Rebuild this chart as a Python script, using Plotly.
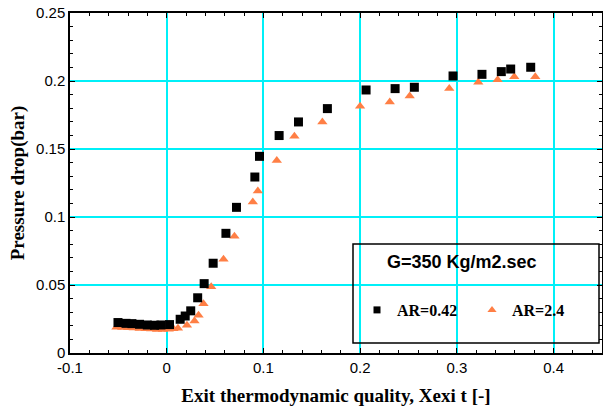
import plotly.graph_objects as go

# ---- data ----
ar042_x = [-0.0504, -0.0421, -0.0360, -0.0281, -0.0201, -0.0126, -0.0060, 0.0029,
           0.0139, 0.0191, 0.0248, 0.0320, 0.0387, 0.0480, 0.0612, 0.0721,
           0.0911, 0.0959, 0.1162, 0.1362, 0.1661, 0.2061, 0.2361, 0.2560,
           0.2960, 0.3259, 0.3459, 0.3556, 0.3763]
ar042_y = [0.0224, 0.0218, 0.0216, 0.0211, 0.0206, 0.0204, 0.0206, 0.0209,
           0.0248, 0.0272, 0.0310, 0.0406, 0.0510, 0.0660, 0.0880, 0.1071,
           0.1294, 0.1446, 0.1599, 0.1699, 0.1797, 0.1934, 0.1944, 0.1954,
           0.2037, 0.2049, 0.2069, 0.2088, 0.2101]

ar24_x = [-0.052, -0.046, -0.040, -0.034, -0.028, -0.022, -0.016, -0.010, -0.004,
          0.002, 0.007, 0.0116, 0.0209, 0.0287, 0.0329, 0.0380, 0.0460, 0.0587,
          0.0700, 0.0890, 0.0942, 0.1138, 0.1320, 0.1609, 0.1999, 0.2306, 0.2512,
          0.2921, 0.3221, 0.3421, 0.3593, 0.3810]
ar24_y = [0.0190, 0.0188, 0.0185, 0.0183, 0.0180, 0.0178, 0.0176, 0.0173, 0.0172,
          0.0175, 0.0178, 0.0182, 0.0204, 0.0235, 0.0277, 0.0363, 0.0487, 0.0689,
          0.0858, 0.1110, 0.1191, 0.1415, 0.1593, 0.1699, 0.1814, 0.1846, 0.1890,
          0.1944, 0.1990, 0.2010, 0.2032, 0.2032]

x_tickvals = [-0.1, 0, 0.1, 0.2, 0.3, 0.4]
x_ticktext = ["-0.1", "0", "0.1", "0.2", "0.3", "0.4"]
y_tickvals = [0, 0.05, 0.1, 0.15, 0.2, 0.25]
y_ticktext = ["0", "0.05", "0.1", "0.15", "0.2", "0.25"]

series_names = ["AR=0.42", "AR=2.4"]
box_title = "G=350 Kg/m2.sec"
x_title = "Exit thermodynamic quality, Xexi t [-]"
y_title = "Pressure drop(bar)"

BLACK = "#000000"
ORANGE = "#FF7F45"
CYAN = "#00F0F8"

fig = go.Figure()
fig.add_trace(go.Scatter(x=ar24_x, y=ar24_y, mode="markers", showlegend=False,
                         marker=dict(symbol="triangle-up", size=9, color=ORANGE)))
fig.add_trace(go.Scatter(x=ar042_x, y=ar042_y, mode="markers", showlegend=False,
                         marker=dict(symbol="square", size=9, color=BLACK)))
# legend-only entries (smaller symbols like the reference)
fig.add_trace(go.Scatter(x=[None], y=[None], mode="markers",
                         name="<b>" + series_names[0] + "</b>",
                         marker=dict(symbol="square", size=7, color=BLACK)))
fig.add_trace(go.Scatter(x=[None], y=[None], mode="markers",
                         name="<b>" + series_names[1] + "</b>",
                         marker=dict(symbol="triangle-up", size=8, color=ORANGE)))

axis_common = dict(
    showline=True, linecolor="black", linewidth=1.5, mirror="ticks",
    ticks="inside", ticklen=5, tickcolor="black", tickwidth=1,
    showgrid=True, gridcolor=CYAN, gridwidth=1.5, zeroline=False,
    tickfont=dict(family="Liberation Sans, Arial", size=15, color="black"),
)

fig.update_xaxes(range=[-0.1, 0.45], tickmode="array", tickvals=x_tickvals,
                 ticktext=x_ticktext,
                 minor=dict(dtick=0.02, tick0=0, ticks="inside", ticklen=3,
                            tickcolor="black", showgrid=False),
                 title=dict(text="<b>" + x_title + "</b>", standoff=14,
                            font=dict(family="Liberation Serif, Times New Roman",
                                      size=19, color="black")),
                 **axis_common)
fig.update_yaxes(range=[0, 0.25], tickmode="array", tickvals=y_tickvals,
                 ticktext=y_ticktext,
                 minor=dict(dtick=0.01, tick0=0, ticks="inside", ticklen=3,
                            tickcolor="black", showgrid=False),
                 title=dict(text="<b>" + y_title + "</b>", standoff=6,
                            font=dict(family="Liberation Serif, Times New Roman",
                                      size=19, color="black")),
                 **axis_common)

W, H = 603, 416
L, R, T, B = 70, 1, 13, 63
pw, ph = W - L - R, H - T - B

def px_x(p):
    return (p - L) / pw

def px_y(p):
    return (H - B - p) / ph

fig.add_shape(type="rect", xref="paper", yref="paper",
              x0=px_x(353), x1=px_x(599), y0=px_y(343), y1=px_y(244),
              line=dict(color="black", width=1.5), fillcolor="rgba(0,0,0,0)")
fig.add_annotation(xref="paper", yref="paper", x=px_x(462), y=px_y(262),
                   text="<b>" + box_title + "</b>", showarrow=False,
                   xanchor="center", yanchor="middle",
                   font=dict(family="Liberation Sans, Arial", size=18, color="black"))

fig.update_layout(
    width=W, height=H,
    margin=dict(l=L, r=R, t=T, b=B, autoexpand=False),
    paper_bgcolor="white", plot_bgcolor="white",
    legend=dict(orientation="h", x=px_x(357), y=px_y(310), xanchor="left",
                yanchor="middle", bgcolor="rgba(0,0,0,0)", borderwidth=0,
                entrywidth=70, entrywidthmode="pixels",
                font=dict(family="Liberation Serif, Times New Roman", size=16,
                          color="black")),
)

fig.write_html("out.html")
